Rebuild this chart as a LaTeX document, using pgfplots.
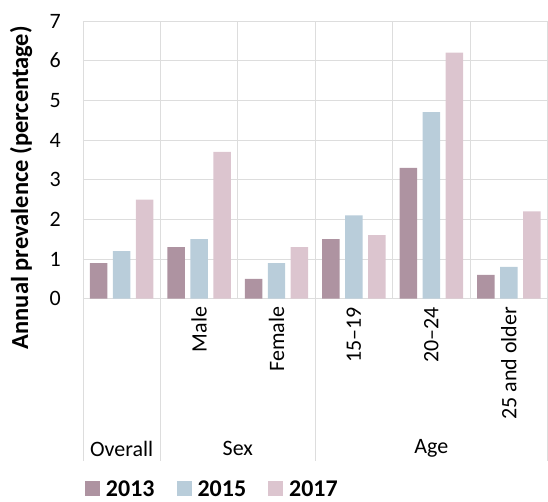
\documentclass[border=0pt]{standalone}
\usepackage{fontspec}
\setmainfont{Carlito}
\usepackage{pgfplots}
\pgfplotsset{compat=1.18}
\definecolor{c13}{HTML}{AE93A1}
\definecolor{c15}{HTML}{B9CDDA}
\definecolor{c17}{HTML}{DCC5CF}
\definecolor{gridc}{HTML}{DDDDDD}
\begin{document}
\begin{tikzpicture}
\begin{axis}[
    name=ax,
    scale only axis, width=465pt, height=278pt,
    ybar=5.5pt, bar width=17.5pt,
    legend image code/.code={\fill[#1] (0pt,-7.5pt) rectangle (15pt,7.5pt);},
    xmin=-0.5, xmax=5.5, ymin=0, ymax=7,
    xtick={0,...,5},
    xticklabels={{},Male,Female,15–19,20–24,25 and older},
    minor xtick={0.5,1.5,2.5,3.5,4.5},
    ytick={0,...,7},
    ymajorgrids, xminorgrids,
    major grid style={draw=gridc, line width=0.8pt},
    minor grid style={draw=gridc, line width=0.8pt},
    axis line style={draw=gridc, line width=0.8pt},
    xtick align=inside, ytick align=outside,
    major tick length=22pt, minor tick length=0pt,
    tick style={draw=none},
    ticklabel style={font=\fontsize{22}{26}\selectfont},
    /pgf/number format/assume math mode=true,
    xticklabel style={rotate=90, anchor=east, inner sep=0pt},
    xticklabel shift=8pt,
    yticklabel style={inner sep=0pt, anchor=east},
    ylabel={Annual prevalence (percentage)},
    every axis y label/.style={at={(axis description cs:-0.1333,0.40)}, rotate=90, anchor=center,
        font=\fontsize{24.5}{28}\selectfont\bfseries},
    legend columns=-1,
    legend style={draw=none, fill=none, inner sep=0pt,
        at={(axis description cs:0.004,-0.685)}, anchor=west,
        font=\fontsize{24}{28}\selectfont\bfseries,
        /tikz/every odd column/.append style={column sep=4pt},
        /tikz/every even column/.append style={column sep=20pt}},
    clip=false,
]
\addplot[fill=c13, draw=none] coordinates {(0,0.9)(1,1.3)(2,0.5)(3,1.5)(4,3.3)(5,0.6)};
\addplot[fill=c15, draw=none] coordinates {(0,1.2)(1,1.5)(2,0.9)(3,2.1)(4,4.7)(5,0.8)};
\addplot[fill=c17, draw=none] coordinates {(0,2.5)(1,3.7)(2,1.3)(3,1.6)(4,6.2)(5,2.2)};
\legend{2013,2015,2017}
\draw[gridc, line width=0.8pt] (axis cs:-0.5,0) -- ++(0pt,-162pt);
\draw[gridc, line width=0.8pt] (axis cs:0.5,0) -- ++(0pt,-162pt);
\draw[gridc, line width=0.8pt] (axis cs:2.5,0) -- ++(0pt,-162pt);
\draw[gridc, line width=0.8pt] (axis cs:5.5,0) -- ++(0pt,-162pt);
\node[font=\fontsize{22}{26}\selectfont] at ([yshift=-150pt]axis cs:0,0) {Overall};
\node[font=\fontsize{22}{26}\selectfont] at ([yshift=-150pt]axis cs:1.5,0) {Sex};
\node[font=\fontsize{22}{26}\selectfont] at ([yshift=-150pt]axis cs:4,0) {Age};
\end{axis}
\pgfresetboundingbox
\path ([xshift=-83pt,yshift=-203pt]ax.south west) rectangle ([xshift=0.5pt,yshift=21pt]ax.north east);
\end{tikzpicture}
\end{document}
